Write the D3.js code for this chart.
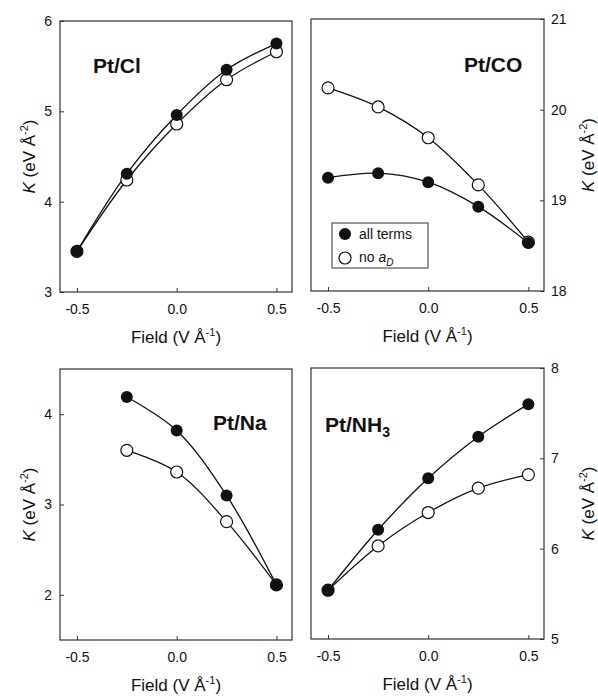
<!DOCTYPE html>
<html>
<head>
<meta charset="utf-8">
<script src="https://cdn.jsdelivr.net/npm/d3@7"></script>
<style>
body { margin: 0; background: #fff; }
text { font-family: "Liberation Sans", Arial, sans-serif; fill: #111; }
</style>
</head>
<body>
<svg id="chart" width="598" height="696"></svg>
<script>
// field values (V/A)
var field = [-0.5, -0.25, 0, 0.25, 0.5];
var fieldNa = [-0.25, 0, 0.25, 0.5];
var xTicks = [-0.5, 0, 0.5];

// K values
var clAll  = [3.45, 4.31, 4.96, 5.46, 5.75];
var clNoAd = [3.45, 4.24, 4.86, 5.35, 5.66];
var coAll  = [19.25, 19.30, 19.20, 18.93, 18.53];
var coNoAd = [20.24, 20.03, 19.69, 19.17, 18.54];
var naAll  = [4.19, 3.82, 3.10, 2.11];
var naNoAd = [3.60, 3.36, 2.81, 2.11];
var nhAll  = [5.54, 6.21, 6.78, 7.24, 7.60];
var nhNoAd = [5.54, 6.03, 6.40, 6.67, 6.82];

var clTicks = [3, 4, 5, 6];
var coTicks = [18, 19, 20, 21];
var naTicks = [2, 3, 4];
var nhTicks = [5, 6, 7, 8];

var svg = d3.select("#chart");
var fmt1 = d3.formatLocale({decimal: ".", thousands: ",", grouping: [3], currency: ["", ""], minus: "-"}).format(".1f");

var panels = [
    {name: "Pt/Cl", sub: null, x: field, a: clAll, b: clNoAd, ydom: [3, 6], yt: clTicks,
     left: 60, right: 292, top: 21, bottom: 292, side: "left", lx: 93, ly: 73, legend: false},
    {name: "Pt/CO", sub: null, x: field, a: coAll, b: coNoAd, ydom: [18, 21], yt: coTicks,
     left: 311, right: 544, top: 19, bottom: 291, side: "right", lx: 464, ly: 72, legend: true},
    {name: "Pt/Na", sub: null, x: fieldNa, a: naAll, b: naNoAd, ydom: [1.5, 4.5], yt: naTicks,
     left: 60, right: 292, top: 369, bottom: 640, side: "left", lx: 213, ly: 430, legend: false},
    {name: "Pt/NH", sub: "3", x: field, a: nhAll, b: nhNoAd, ydom: [5, 8], yt: nhTicks,
     left: 311, right: 544, top: 368, bottom: 639, side: "right", lx: 325, ly: 432, legend: false}
];

function kTitle(g) {
    g.append("tspan").attr("font-style", "italic").text("K");
    g.append("tspan").text(" (eV Å");
    g.append("tspan").attr("font-size", 11).attr("dy", -7).text("-2");
    g.append("tspan").attr("dy", 7).text(")");
}

function fieldTitle(g) {
    g.append("tspan").text("Field (V Å");
    g.append("tspan").attr("font-size", 11).attr("dy", -7).text("-1");
    g.append("tspan").attr("dy", 7).text(")");
}

panels.forEach(function(p) {
    var x = d3.scaleLinear().domain([-0.585, 0.578]).range([p.left, p.right]);
    var y = d3.scaleLinear().domain(p.ydom).range([p.bottom, p.top]);
    var g = svg.append("g");

    // frame
    g.append("rect")
	.attr("x", p.left).attr("y", p.top)
	.attr("width", p.right - p.left).attr("height", p.bottom - p.top)
	.attr("fill", "none").attr("stroke", "#333").attr("stroke-width", 1.2);

    // x axis (ticks pointing in)
    var xa = g.append("g")
	.attr("transform", "translate(0," + p.bottom + ")")
	.call(d3.axisBottom(x).tickValues(xTicks).tickSizeInner(-4).tickSizeOuter(0)
	      .tickFormat(fmt1));
    xa.select(".domain").remove();
    xa.selectAll("line").attr("stroke", "#333");
    xa.selectAll("text").attr("font-size", 14).attr("fill", "#111").attr("y", 12)
	.attr("font-family", "Liberation Sans, Arial, sans-serif");

    // y axis
    var yax = p.side == "left" ? d3.axisLeft(y) : d3.axisRight(y);
    var ya = g.append("g")
	.attr("transform", "translate(" + (p.side == "left" ? p.left : p.right) + ",0)")
	.call(yax.tickValues(p.yt).tickSizeInner(-4).tickSizeOuter(0).tickFormat(d3.format("d")));
    ya.select(".domain").remove();
    ya.selectAll("line").attr("stroke", "#333");
    ya.selectAll("text").attr("font-size", 14).attr("fill", "#111")
	.attr("x", p.side == "left" ? -8 : 7)
	.attr("font-family", "Liberation Sans, Arial, sans-serif");

    // axis titles
    var cx = (p.left + p.right) / 2;
    g.append("text").attr("x", cx).attr("y", p.bottom + 51)
	.attr("text-anchor", "middle").attr("font-size", 17).call(fieldTitle);
    var tx = p.side == "left" ? 35 : 594;
    var ty = (p.top + p.bottom) / 2;
    g.append("text").attr("transform", "translate(" + tx + "," + ty + ") rotate(-90)")
	.attr("text-anchor", "middle").attr("font-size", 17).call(kTitle);

    // panel label
    var lab = g.append("text").attr("x", p.lx).attr("y", p.ly)
	.attr("font-size", 21).attr("font-weight", "bold");
    lab.append("tspan").text(p.name);
    if (p.sub) lab.append("tspan").attr("font-size", 14).attr("dy", 5).text(p.sub);

    // curves
    var line = d3.line()
	.x(function(d) { return x(d[0]); })
	.y(function(d) { return y(d[1]); })
	.curve(d3.curveCatmullRom.alpha(0.5));
    [p.b, p.a].forEach(function(vals) {
	var pts = vals.map(function(v, i) { return [p.x[i], v]; });
	g.append("path").datum(pts).attr("d", line)
	    .attr("fill", "none").attr("stroke", "#111").attr("stroke-width", 1.3);
    });

    // markers: open first, filled on top
    g.selectAll(".open").data(p.b).enter().append("circle")
	.attr("class", "open")
	.attr("cx", function(d, i) { return x(p.x[i]); })
	.attr("cy", function(d) { return y(d); })
	.attr("r", 6).attr("fill", "#fff").attr("stroke", "#111").attr("stroke-width", 1.2);
    g.selectAll(".filled").data(p.a).enter().append("circle")
	.attr("class", "filled")
	.attr("cx", function(d, i) { return x(p.x[i]); })
	.attr("cy", function(d) { return y(d); })
	.attr("r", 6).attr("fill", "#111");

    if (p.legend) {
	var lg = g.append("g");
	lg.append("rect").attr("x", 332).attr("y", 223).attr("width", 96).attr("height", 45)
	    .attr("fill", "#fff").attr("stroke", "#333").attr("stroke-width", 1);
	lg.append("circle").attr("cx", 345).attr("cy", 234).attr("r", 6).attr("fill", "#111");
	lg.append("circle").attr("cx", 345).attr("cy", 258).attr("r", 6)
	    .attr("fill", "#fff").attr("stroke", "#111").attr("stroke-width", 1.2);
	lg.append("text").attr("x", 359).attr("y", 239).attr("font-size", 14).text("all terms");
	var t2 = lg.append("text").attr("x", 359).attr("y", 262).attr("font-size", 14);
	t2.append("tspan").text("no ");
	t2.append("tspan").attr("font-style", "italic").text("a");
	t2.append("tspan").attr("font-style", "italic").attr("font-size", 10).attr("dy", 4).text("D");
    }
});
</script>
</body>
</html>
